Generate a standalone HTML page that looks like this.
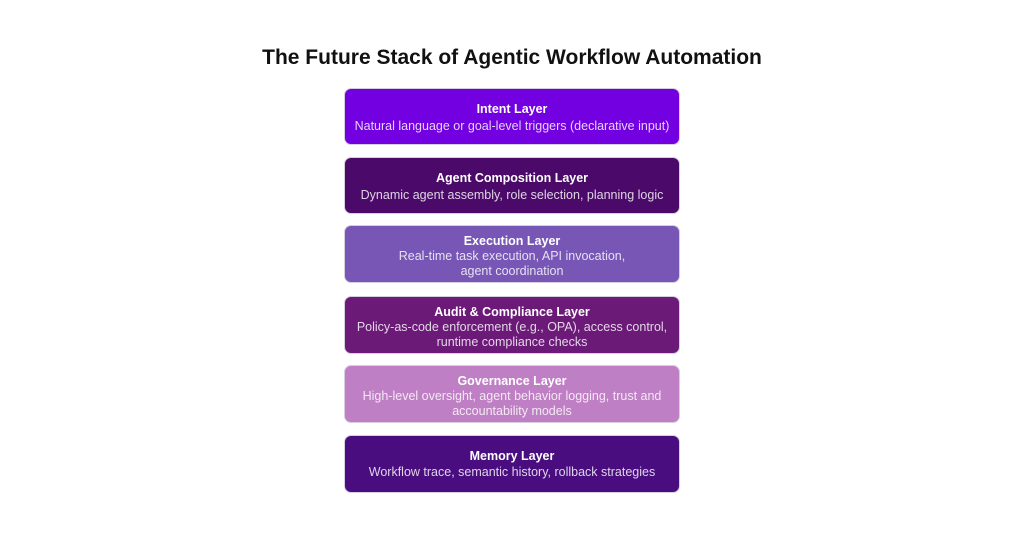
<!DOCTYPE html>
<html>
<head>
<meta charset="utf-8">
<style>
  html, body { margin:0; padding:0; }
  body { width:1024px; height:538px; background:#ffffff; position:relative; overflow:hidden;
         font-family:"Liberation Sans", Arial, sans-serif; }
  .title { position:absolute; left:0; width:1024px; top:44px; text-align:center;
           font-size:21px; font-weight:bold; color:#111; line-height:28px; }
  .box { position:absolute; left:344px; width:336px; border:1px solid #d6cfe0; border-radius:7px;
         box-sizing:border-box; display:flex; flex-direction:column; justify-content:center;
         align-items:center; text-align:center; }
  .h { color:#ffffff; font-weight:bold; font-size:12.5px; line-height:16px; }
  .b { color:rgba(255,255,255,0.82); font-size:12.5px; line-height:15.5px; }
  .three { padding-top:4px; }
  .two { padding-top:2px; }
</style>
</head>
<body>
  <div class="title">The Future Stack of Agentic Workflow Automation</div>

  <div class="box two" style="top:88px;height:57px;background:#7300e0;">
    <div class="h" style="margin-bottom:2px;">Intent Layer</div>
    <div class="b">Natural language or goal-level triggers (declarative input)</div>
  </div>

  <div class="box two" style="top:157px;height:57px;background:#4b0a69;">
    <div class="h" style="margin-bottom:2px;">Agent Composition Layer</div>
    <div class="b">Dynamic agent assembly, role selection, planning logic</div>
  </div>

  <div class="box three" style="top:225px;height:58px;background:#7756b5;">
    <div class="h">Execution Layer</div>
    <div class="b">Real-time task execution, API invocation,<br>agent coordination</div>
  </div>

  <div class="box three" style="top:296px;height:58px;background:#6b1a78;">
    <div class="h">Audit &amp; Compliance Layer</div>
    <div class="b">Policy-as-code enforcement (e.g., OPA), access control,<br>runtime compliance checks</div>
  </div>

  <div class="box three" style="top:365px;height:58px;background:#bf7fc4;">
    <div class="h">Governance Layer</div>
    <div class="b">High-level oversight, agent behavior logging, trust and<br>accountability models</div>
  </div>

  <div class="box" style="top:435px;height:58px;background:#4a0d80;">
    <div class="h" style="margin-bottom:1px;">Memory Layer</div>
    <div class="b">Workflow trace, semantic history, rollback strategies</div>
  </div>
</body>
</html>
